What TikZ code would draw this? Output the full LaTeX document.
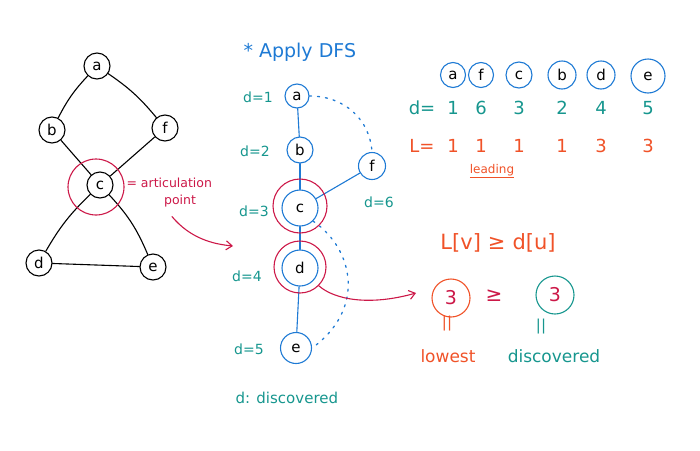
\documentclass[tikz,border=0pt]{standalone}
\usepackage{fontspec}
\setmainfont{DejaVu Sans}
\usepackage{tikz}
\usetikzlibrary{positioning,arrows.meta}
\definecolor{penblue}{RGB}{30,122,212}
\definecolor{penteal}{RGB}{22,150,142}
\definecolor{penred}{RGB}{204,24,72}
\definecolor{penorange}{RGB}{240,82,40}

\begin{document}
\begin{tikzpicture}[x=1pt,y=-1pt,line cap=round,
  vtx/.style={circle,draw=black,line width=1.1pt,inner sep=1pt,minimum size=26pt,font=\fontsize{15}{15}\selectfont},
  tvtx/.style={circle,draw=penblue,line width=1.1pt,inner sep=1pt,font=\fontsize{15}{15}\selectfont},
  ring/.style={circle,draw=penred,line width=1.1pt,inner sep=0pt},
  dtxt/.style={text=penteal,font=\fontsize{14}{14}\selectfont},
  ltxt/.style={text=penorange,font=\fontsize{14}{14}\selectfont},
  rtxt/.style={text=penred,font=\fontsize{12.5}{12.5}\selectfont},
  blk/.style={draw=black,line width=1.1pt},
  tree/.style={draw=penblue,line width=1.1pt},
  back/.style={draw=penblue,line width=1.3pt,dash pattern=on 2pt off 6pt},
  redarr/.style={draw=penred,line width=1.1pt,-{Straight Barb[length=6pt,width=9pt]}}]
  \useasboundingbox (0,0) rectangle (700,450);

  % graph
  \node[vtx] at (97,66) (ga){a};
  \node[vtx] at (52,130) (gb){b};
  \node[vtx] at (165,128) (gf){f};
  \node[vtx] at (100,185) (gc){c};
  \node[vtx] at (39,263) (gd){d};
  \node[vtx] at (153,267) (ge){e};
  \draw[blk] (ga) to[bend right=8] (gb);
  \draw[blk] (ga) to[bend left=8] (gf);
  \draw[blk] (gb) -- (gc);
  \draw[blk] (gf) -- (gc);
  \draw[blk] (gc) to[bend right=8] (gd);
  \draw[blk] (gc) to[bend left=10] (ge);
  \draw[blk] (gd) -- (ge);
  \node[ring,minimum size=56pt] at (96,187) (gring){};
  \node[rtxt,anchor=west] at (123,183) (artlbl){= articulation};
  \node[rtxt] at (180,201) (ptlbl){point};
  \coordinate (arrtip) at (233,246);
  \draw[redarr] (ptlbl.south) ++(-8,6) .. controls (190,238) and (212,244) .. (arrtip);

  % dfs tree
  \node[text=penblue,font=\fontsize{19}{19}\selectfont,anchor=west] at (240,52) (title){* Apply DFS};
  \node[tvtx,minimum size=24pt] at (297,96) (ta){a};
  \node[tvtx,minimum size=26pt] at (300,150) (tb){b};
  \node[tvtx,minimum size=36pt] at (300,208) (tc){c};
  \node[tvtx,minimum size=27pt] at (372,166) (tf){f};
  \node[tvtx,minimum size=36pt] at (300,268) (td){d};
  \node[tvtx,minimum size=31pt] at (296,348) (te){e};
  \draw[tree] (ta) -- (tb);
  \draw[tree] (tb) -- (tc);
  \draw[tree] (tc) -- (td);
  \draw[tree] (td) -- (te);
  \draw[tree] (tc) -- (tf);
  \draw[back] (ta.east) .. controls (345,96) and (370,120) .. (tf.north);
  \draw[back] (tc.south east) .. controls (355,250) and (365,310) .. (te.east);
  \node[ring,minimum size=54pt] at (300,206) (cring){};
  \node[ring,minimum size=52pt] at (300,267) (dring){};
  \node[dtxt] at (258,97) (d1){d=1};
  \node[dtxt] at (255,151) (d2){d=2};
  \node[dtxt] at (254,211) (d3){d=3};
  \node[dtxt] at (379,202) (d6){d=6};
  \node[dtxt] at (247,276) (d4){d=4};
  \node[dtxt] at (249,349) (d5){d=5};
  \node[dtxt,font=\fontsize{15}{15}\selectfont,anchor=west] at (232,398) (dlegend){d: discovered};

  % table
  \node[tvtx,minimum size=25pt] at (453,75) (la){a};
  \node[tvtx,minimum size=25pt] at (481,75) (lf){f};
  \node[tvtx,minimum size=26pt] at (519,75) (lc){c};
  \node[tvtx,minimum size=28pt] at (562,75) (lb){b};
  \node[tvtx,minimum size=28pt] at (601,75) (ld){d};
  \node[tvtx,minimum size=34pt] at (648,76) (le){e};
  \node[dtxt,font=\fontsize{18}{18}\selectfont] at (422,108) (drow){d=};
  \node[ltxt,font=\fontsize{18}{18}\selectfont] at (422,146) (lrow){L=};
  \node[dtxt,font=\fontsize{18}{18}\selectfont] at (la |- drow) (va){1};
  \node[dtxt,font=\fontsize{18}{18}\selectfont] at (lf |- drow) (vf){6};
  \node[dtxt,font=\fontsize{18}{18}\selectfont] at (lc |- drow) (vc){3};
  \node[dtxt,font=\fontsize{18}{18}\selectfont] at (lb |- drow) (vb){2};
  \node[dtxt,font=\fontsize{18}{18}\selectfont] at (ld |- drow) (vd){4};
  \node[dtxt,font=\fontsize{18}{18}\selectfont] at (le |- drow) (ve){5};
  \node[ltxt,font=\fontsize{18}{18}\selectfont] at (la |- lrow) (wa){1};
  \node[ltxt,font=\fontsize{18}{18}\selectfont] at (lf |- lrow) (wf){1};
  \node[ltxt,font=\fontsize{18}{18}\selectfont] at (lc |- lrow) (wc){1};
  \node[ltxt,font=\fontsize{18}{18}\selectfont] at (lb |- lrow) (wb){1};
  \node[ltxt,font=\fontsize{18}{18}\selectfont] at (ld |- lrow) (wd){3};
  \node[ltxt,font=\fontsize{18}{18}\selectfont] at (le |- lrow) (we){3};
  \node[ltxt,font=\fontsize{12}{12}\selectfont] at (492,171) (lead){\underline{leading}};

  % condition
  \node[ltxt,font=\fontsize{21}{21}\selectfont] at (498,243) (cond){L[v]\,\,≥\,\,d[u]};
  \node[circle,draw=penorange,line width=1.1pt,minimum size=38pt,text=penred,font=\fontsize{19}{19}\selectfont] at (451,298) (low){3};
  \node[text=penred,font=\fontsize{20}{20}\selectfont] at (494,296) (geq){≥};
  \node[circle,draw=penteal,line width=1.1pt,minimum size=38pt,text=penred,font=\fontsize{19}{19}\selectfont] at (555,295) (disc){3};
  \node[ltxt,font=\fontsize{15}{15}\selectfont] at (447,324) (loweq){||};
  \node[dtxt,font=\fontsize{15}{15}\selectfont] at (541,327) (disceq){||};
  \node[ltxt,font=\fontsize{17}{17}\selectfont] at (448,356) (lowlbl){lowest};
  \node[dtxt,font=\fontsize{17}{17}\selectfont] at (554,356) (disclbl){discovered};
  \coordinate (dtip) at (416,293);
  \draw[redarr] (dring.south east) .. controls (335,300) and (370,306) .. (dtip);
\end{tikzpicture}
\end{document}
